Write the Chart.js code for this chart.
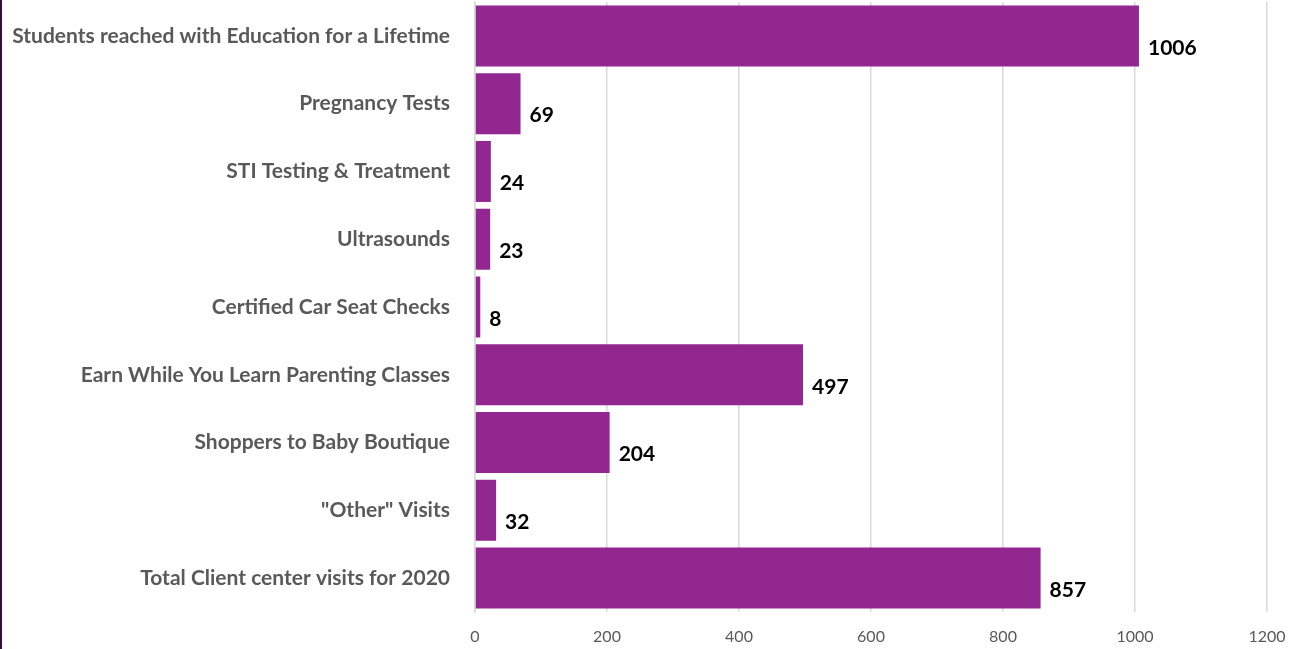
<!DOCTYPE html>
<html>
<head>
<meta charset="utf-8">
<script src="https://cdn.jsdelivr.net/npm/chart.js@4"></script>
<style>
  html, body { margin: 0; padding: 0; background: #ffffff; }
  #wrap { position: relative; width: 1298px; height: 649px; }
  #edge { position: absolute; left: 0; top: 0; width: 2px; height: 649px; background: #3b0c3f; }
  canvas { display: block; }
</style>
</head>
<body>
<div id="wrap">
  <canvas id="c" width="1298" height="649"></canvas>
  <div id="edge"></div>
</div>
<script>
const categories = [
  "Students reached with Education for a Lifetime",
  "Pregnancy Tests",
  "STI Testing & Treatment",
  "Ultrasounds",
  "Certified Car Seat Checks",
  "Earn While You Learn Parenting Classes",
  "Shoppers to Baby Boutique",
  "\"Other\" Visits",
  "Total Client center visits for 2020"
];
const values = [1006, 69, 24, 23, 8, 497, 204, 32, 857];
const xTicks = [0, 200, 400, 600, 800, 1000, 1200];

const valueLabels = {
  id: 'valueLabels',
  afterDatasetsDraw(chart) {
    const ctx = chart.ctx;
    const meta = chart.getDatasetMeta(0);
    ctx.save();
    ctx.font = 'bold 21px Lato, "Open Sans", sans-serif';
    ctx.fillStyle = '#000000';
    ctx.textAlign = 'left';
    ctx.textBaseline = 'middle';
    meta.data.forEach((bar, i) => {
      ctx.fillText(String(values[i]), bar.x + 9, bar.y + 12);
    });
    ctx.restore();
  }
};

new Chart(document.getElementById('c'), {
  type: 'bar',
  data: {
    labels: categories,
    datasets: [{
      data: values,
      backgroundColor: '#92278f',
      borderWidth: 0,
      barPercentage: 0.9,
      categoryPercentage: 1.0
    }]
  },
  options: {
    indexAxis: 'y',
    responsive: false,
    animation: false,
    devicePixelRatio: 1,
    layout: { padding: { top: 2, right: 31, left: 2, bottom: 0 } },
    plugins: {
      legend: { display: false },
      tooltip: { enabled: false }
    },
    scales: {
      x: {
        min: 0,
        max: 1200,
        afterBuildTicks(scale) { scale.ticks = xTicks.map(v => ({ value: v })); },
        afterFit(scale) { scale.height = 37; scale.paddingLeft = 0; scale.paddingRight = 0; },
        grid: { color: '#d9d9d9', lineWidth: 1.5, drawTicks: false },
        border: { display: false },
        ticks: {
          color: '#595959',
          font: { family: 'Lato, "Open Sans", sans-serif', size: 16 },
          padding: 15,
          callback: (v) => String(v)
        }
      },
      y: {
        afterFit(scale) { scale.width = 473; scale.paddingTop = 0; scale.paddingBottom = 0; },
        grid: { display: false },
        border: { display: true, color: '#d9d9d9', width: 1.5 },
        ticks: {
          color: '#595959',
          font: { family: 'Lato, "Open Sans", sans-serif', size: 21, weight: 'bold' },
          padding: 17
        }
      }
    }
  },
  plugins: [valueLabels]
});
</script>
</body>
</html>
